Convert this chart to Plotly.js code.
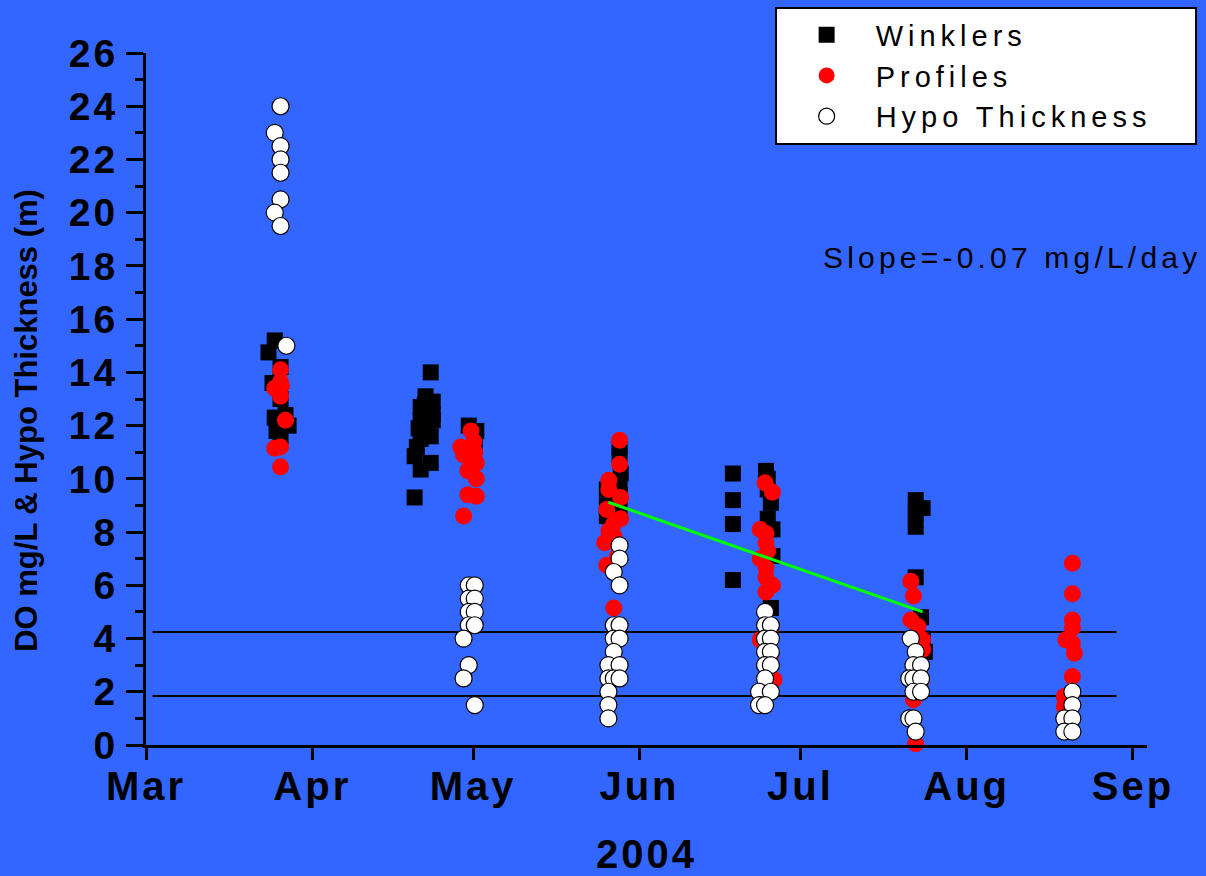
<!DOCTYPE html>
<html><head><meta charset="utf-8">
<script src="https://cdn.plot.ly/plotly-3.0.1.min.js"></script>
<style>
html,body{margin:0;padding:0;background:#3366FF;}
#chart{width:1206px;height:876px;}
.xtick text{letter-spacing:3px;}
.ytick text{letter-spacing:3px;}
.xtitle{letter-spacing:3px;}
.legendtext{letter-spacing:5px;}
g.annotation[data-index="0"] text{letter-spacing:4.2px;}
</style></head><body><div id="chart"></div><script>
// ---- data ----
const monthTicks = ['2004-03-01','2004-04-01','2004-05-01','2004-06-01','2004-07-01','2004-08-01','2004-09-01'];
const monthLabels = ['Mar','Apr','May','Jun','Jul','Aug','Sep'];

const winkDates = [
 '2004-03-25 00:00','2004-03-23 20:00','2004-03-26 02:00','2004-03-24 14:00','2004-03-26 02:00','2004-03-25 00:00','2004-03-27 00:00','2004-03-27 14:00','2004-03-26 02:00','2004-03-25 08:00',
 '2004-04-23 02:00','2004-04-22 03:00','2004-04-23 11:00','2004-04-21 05:00','2004-04-22 17:00','2004-04-21 05:00','2004-04-23 11:00','2004-04-20 20:00','2004-04-22 08:00','2004-04-21 05:00','2004-04-23 02:00','2004-04-20 12:00','2004-04-20 02:00','2004-04-21 05:00','2004-04-23 02:00','2004-04-20 02:00','2004-04-22 00:00','2004-04-23 11:00',
 '2004-04-30 04:00','2004-05-01 14:00','2004-05-01 07:00',
 '2004-05-28 07:00','2004-05-28 07:00','2004-05-28 12:00','2004-05-28 07:00','2004-05-28 07:00','2004-05-25 22:00','2004-05-25 22:00','2004-05-25 22:00','2004-05-28 07:00',
 '2004-06-18 10:00','2004-06-18 10:00','2004-06-18 10:00','2004-06-18 10:00','2004-06-24 14:00','2004-06-24 22:00','2004-06-25 12:00','2004-06-24 22:00','2004-06-25 19:00','2004-06-25 19:00','2004-06-25 12:00','2004-06-24 22:00',
 '2004-07-22 12:00','2004-07-23 19:00','2004-07-22 12:00','2004-07-22 12:00','2004-07-22 12:00','2004-07-23 12:00','2004-07-23 19:00','2004-07-24 05:00'];
const winkDO = [
 15.2,14.75,14.2,13.6,13.0,12.3,12.4,12.0,11.6,11.8,
 14.0,13.1,12.9,12.7,12.5,12.2,12.2,11.9,11.8,11.5,11.6,11.2,10.85,10.35,10.6,9.3,12.8,12.4,
 12.0,11.8,11.3,
 11.2,10.9,10.2,9.8,9.4,9.6,9.0,8.6,8.8,
 10.2,9.2,8.3,6.2,10.3,10.0,9.1,8.5,8.1,7.1,5.15,9.6,
 9.2,8.9,8.7,8.2,6.3,4.8,4.0,3.5];

const profDates = [
 '2004-03-26 02:00','2004-03-26 02:00','2004-03-25 00:00','2004-03-26 02:00','2004-03-27 00:00','2004-03-25 00:00','2004-03-26 02:00','2004-03-26 02:00','2004-03-26 06:00',
 '2004-04-30 14:00','2004-04-28 16:00','2004-04-29 05:00','2004-05-01 03:00','2004-05-01 14:00','2004-04-30 00:00','2004-05-01 14:00','2004-04-30 00:00','2004-05-01 14:00','2004-04-29 05:00','2004-05-01 07:00','2004-04-30 14:00',
 '2004-05-28 07:00','2004-05-28 07:00','2004-05-26 07:00','2004-05-26 07:00','2004-05-28 12:00','2004-05-25 22:00','2004-05-28 12:00','2004-05-26 07:00','2004-05-27 05:00','2004-05-25 12:00','2004-05-27 05:00','2004-05-27 22:00','2004-05-25 22:00','2004-05-27 05:00',
 '2004-06-24 10:00','2004-06-25 19:00','2004-06-23 12:00','2004-06-24 14:00','2004-06-24 14:00','2004-06-24 22:00','2004-06-23 12:00','2004-06-24 14:00','2004-06-24 14:00','2004-06-25 19:00','2004-06-24 14:00','2004-06-23 12:00','2004-06-26 02:00','2004-06-25 12:00','2004-06-25 12:00',
 '2004-07-21 14:00','2004-07-22 02:00','2004-07-21 14:00','2004-07-22 22:00','2004-07-23 19:00','2004-07-23 19:00','2004-07-22 02:00','2004-07-22 12:00','2004-07-23 12:00',
 '2004-08-20 17:00','2004-08-20 17:00','2004-08-20 17:00','2004-08-20 17:00','2004-08-19 12:00','2004-08-20 17:00','2004-08-21 02:00','2004-08-20 17:00','2004-08-19 05:00','2004-08-19 05:00'];
const profDO = [
 14.1,13.65,13.4,13.1,12.2,11.15,11.2,10.45,13.5,
 11.8,11.2,10.9,11.4,10.6,10.3,10.0,9.4,9.35,8.6,11.0,10.7,
 11.45,10.55,9.95,9.6,9.3,8.85,8.5,8.05,7.85,7.6,8.3,7.1,6.75,5.15,
 9.85,9.5,8.1,7.95,7.6,7.3,7.0,6.65,6.3,6.0,5.75,3.95,2.45,4.4,3.4,
 6.15,5.6,4.7,4.45,3.95,3.6,1.7,0.05,2.4,
 6.83,5.68,4.7,4.4,3.95,3.82,3.45,2.57,1.82,1.45];

const hypoDates = [
 '2004-03-26 02:00','2004-03-25 00:00','2004-03-26 02:00','2004-03-26 02:00','2004-03-26 02:00','2004-03-26 02:00','2004-03-25 00:00','2004-03-26 02:00','2004-03-27 04:00',
 '2004-04-30 04:00','2004-05-01 07:00','2004-04-30 04:00','2004-05-01 07:00','2004-04-30 04:00','2004-05-01 07:00','2004-04-30 04:00','2004-05-01 07:00','2004-04-29 05:00','2004-04-30 04:00','2004-04-29 05:00','2004-05-01 07:00',
 '2004-05-28 07:00','2004-05-28 07:00','2004-05-27 05:00','2004-05-28 07:00','2004-05-27 05:00','2004-05-28 07:00','2004-05-27 05:00','2004-05-28 07:00','2004-05-27 05:00','2004-05-26 05:00','2004-05-28 07:00','2004-05-26 05:00','2004-05-27 05:00','2004-05-28 07:00','2004-05-26 05:00','2004-05-26 05:00','2004-05-26 05:00',
 '2004-06-24 10:00','2004-06-24 10:00','2004-06-25 12:00','2004-06-24 10:00','2004-06-25 12:00','2004-06-24 10:00','2004-06-25 12:00','2004-06-24 10:00','2004-06-25 12:00','2004-06-24 10:00','2004-06-23 07:00','2004-06-25 12:00','2004-06-23 07:00','2004-06-24 10:00',
 '2004-07-21 14:00','2004-07-22 12:00','2004-07-22 02:00','2004-07-23 12:00','2004-07-21 07:00','2004-07-22 02:00','2004-07-23 12:00','2004-07-22 02:00','2004-07-23 12:00','2004-07-21 07:00','2004-07-22 02:00','2004-07-22 12:00',
 '2004-08-20 17:00','2004-08-20 17:00','2004-08-19 05:00','2004-08-20 17:00','2004-08-19 05:00','2004-08-20 17:00'];
const hypoM = [
 24,23,22.5,22,21.5,20.5,20,19.5,15,
 6,6,5.5,5.5,5,5,4.5,4.5,4,3,2.5,1.5,
 7.5,7.0,6.5,6.0,4.5,4.5,4.0,4.0,3.5,3.0,3.0,2.5,2.5,2.5,2.0,1.5,1.0,
 5.0,4.5,4.5,4.0,4.0,3.5,3.5,3.0,3.0,2.5,2.0,2.0,1.5,1.5,
 4.0,3.5,3.0,3.0,2.5,2.5,2.5,2.0,2.0,1.0,1.0,0.5,
 2.0,1.5,1.0,1.0,0.5,0.5];

const trendDates = ['2004-05-26 05:00','2004-07-23 19:00'];
const trendDO = [9.12, 5.0];
const refLineDates = ['2004-03-02 05:00','2004-08-28 22:00'];
const refLineUpper = [4.25, 4.25];
const refLineLower = [1.84, 1.84];

// ---- chart ----
const FONT = 'Liberation Sans, Arial, sans-serif';
const BG = '#3366FF';
const traces = [
 {x: refLineDates, y: refLineUpper, mode:'lines', line:{color:'black', width:2}, showlegend:false, hoverinfo:'skip'},
 {x: refLineDates, y: refLineLower, mode:'lines', line:{color:'black', width:2}, showlegend:false, hoverinfo:'skip'},
 {x: winkDates, y: winkDO, mode:'markers', name:'Winklers', cliponaxis:false,
  marker:{symbol:'square', size:16, color:'black', line:{width:0}}},
 {x: profDates, y: profDO, mode:'markers', name:'Profiles', cliponaxis:false,
  marker:{symbol:'circle', size:17, color:'#FF0000', line:{width:0}}},
 {x: trendDates, y: trendDO, mode:'lines', line:{color:'#00FF00', width:3}, showlegend:false, hoverinfo:'skip'},
 {x: hypoDates, y: hypoM, mode:'markers', name:'Hypo Thickness', cliponaxis:false,
  marker:{symbol:'circle', size:17, color:'white', line:{width:1.2, color:'black'}}}
];

const layout = {
 width:1206, height:876, autosize:false,
 paper_bgcolor:BG, plot_bgcolor:BG,
 margin:{l:146, r:59, t:53, b:131, autoexpand:false},
 font:{family:FONT, color:'black'},
 showlegend:true,
 legend:{x:0.631, y:1.063, xanchor:'left', yanchor:'top', bgcolor:'rgba(0,0,0,0)', borderwidth:0,
   font:{family:FONT, size:29, color:'black'}, itemwidth:88, traceorder:'normal'},
 shapes:[{type:'rect', xref:'paper', yref:'paper', x0:0.6294, x1:1.049, y0:0.8685, y1:1.065,
   fillcolor:'white', line:{color:'black', width:2}, layer:'above'}],
 xaxis:{type:'date', range:['2004-03-01','2004-09-03 15:00'],
   tickmode:'array', tickvals:monthTicks, ticktext:monthLabels,
   ticks:'outside', ticklen:12, tickwidth:3, tickcolor:'black',
   showline:true, linecolor:'black', linewidth:3, showgrid:false, zeroline:false,
   ticklabelstandoff:-8, automargin:false,
   tickfont:{family:FONT, size:40, weight:'bold', color:'black'},
   title:{text:'2004', font:{family:FONT, size:40, weight:'bold', color:'black'}, standoff:46}},
 yaxis:{range:[0,26], tickmode:'linear', tick0:0, dtick:2, automargin:false,
   ticks:'outside', ticklen:17, tickwidth:3, tickcolor:'black',
   minor:{dtick:1, ticks:'outside', ticklen:8, tickwidth:3, tickcolor:'black'},
   showline:true, linecolor:'black', linewidth:3, showgrid:false, zeroline:false,
   tickfont:{family:FONT, size:39, weight:'bold', color:'black'}},
 annotations:[
  {xref:'paper', yref:'paper', x:0.674, y:0.705, xanchor:'left', yanchor:'middle', align:'left',
   text:'Slope=-0.07 mg/L/day', showarrow:false, font:{family:FONT, size:30, color:'black'}},
  {xref:'paper', yref:'paper', x:-0.119, y:0.4697, xanchor:'center', yanchor:'middle', textangle:-90,
   text:'DO mg/L & Hypo Thickness (m)', showarrow:false, font:{family:FONT, size:31, weight:'bold', color:'black'}}
 ]
};

Plotly.newPlot('chart', traces, layout, {displayModeBar:false, staticPlot:true});
</script></body></html>
